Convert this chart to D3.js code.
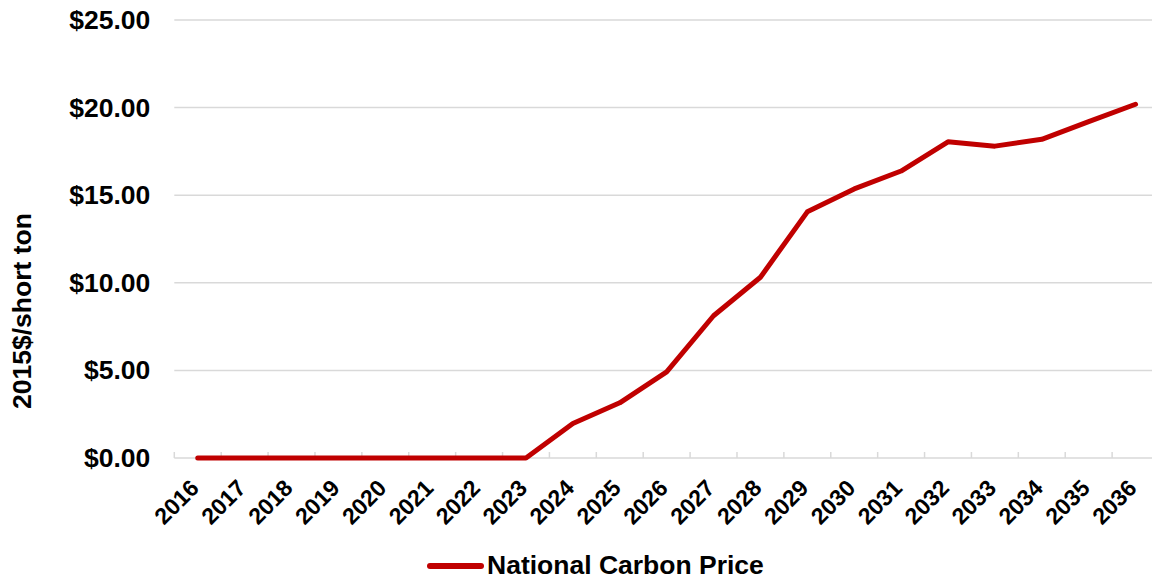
<!DOCTYPE html>
<html>
<head>
<meta charset="utf-8">
<script src="https://cdn.jsdelivr.net/npm/d3@7"></script>
<style>
  html, body { margin: 0; padding: 0; background: #fff; }
  svg { display: block; font-family: "Liberation Sans", Arial, sans-serif; font-weight: bold; }
</style>
</head>
<body>
<svg id="chart" width="1152" height="579"></svg>
<script>
// Carbon price path, 2015 dollars per short ton
const years = ["2016","2017","2018","2019","2020","2021","2022","2023","2024","2025",
               "2026","2027","2028","2029","2030","2031","2032","2033","2034","2035","2036"];
const carbonPrice = [0, 0, 0, 0, 0, 0, 0, 0, 1.97, 3.15,
                     4.92, 8.12, 10.32, 14.05, 15.36, 16.38, 18.05, 17.8, 18.19, 19.2, 20.19];
const yTicks = [0, 5, 10, 15, 20, 25];
const seriesName = "National Carbon Price";
const yTitle = "2015$/short ton";

const svg = d3.select("#chart");
const plotLeft = 174.3, plotRight = 1159, plotTop = 20, plotBottom = 458;

const x = d3.scaleBand().domain(years).range([plotLeft, plotRight]).padding(0);
const y = d3.scaleLinear().domain([0, 25]).range([plotBottom, plotTop]);
const fmt = d => "$" + d3.format(".2f")(d);

// horizontal gridlines
svg.append("g")
  .selectAll("line")
  .data(yTicks)
  .join("line")
  .attr("x1", plotLeft).attr("x2", plotRight)
  .attr("y1", d => y(d)).attr("y2", d => y(d))
  .attr("stroke", "#d9d9d9").attr("stroke-width", 1.5);

// y axis labels
const yAxis = svg.append("g")
  .attr("transform", `translate(${plotLeft},0)`)
  .call(d3.axisLeft(y).tickValues(yTicks).tickFormat(fmt).tickSize(0).tickPadding(24));
yAxis.select(".domain").remove();
yAxis.selectAll("text")
  .attr("font-family", "Liberation Sans, Arial, sans-serif")
  .attr("font-weight", "bold")
  .attr("font-size", 26.5)
  .attr("fill", "#000");

// category axis: tick marks at band boundaries
const boundaries = years.map(d => x(d)).concat([x(years[years.length - 1]) + x.bandwidth()]);
svg.append("g")
  .selectAll("line")
  .data(boundaries)
  .join("line")
  .attr("x1", d => d).attr("x2", d => d)
  .attr("y1", plotBottom - 6).attr("y2", plotBottom)
  .attr("stroke", "#d9d9d9").attr("stroke-width", 1.5);

// rotated year labels
svg.append("g")
  .selectAll("text")
  .data(years)
  .join("text")
  .attr("transform", d => `translate(${x(d) + x.bandwidth() / 2 - 9},${plotBottom + 20}) rotate(-45)`)
  .attr("text-anchor", "end")
  .attr("dy", "0.71em")
  .attr("font-size", 23)
  .attr("fill", "#000")
  .text(d => d);

// y axis title
svg.append("text")
  .attr("transform", `translate(31,311) rotate(-90)`)
  .attr("text-anchor", "middle")
  .attr("font-size", 26.5)
  .attr("fill", "#000")
  .text(yTitle);

// price line
const line = d3.line()
  .x((d, i) => x(years[i]) + x.bandwidth() / 2)
  .y(d => y(d));
svg.append("path")
  .datum(carbonPrice)
  .attr("d", line)
  .attr("fill", "none")
  .attr("stroke", "#c00000")
  .attr("stroke-width", 5)
  .attr("stroke-linejoin", "round")
  .attr("stroke-linecap", "round");

// legend
const lg = svg.append("g");
lg.append("line")
  .attr("x1", 430).attr("x2", 481)
  .attr("y1", 566).attr("y2", 566)
  .attr("stroke", "#c00000").attr("stroke-width", 6)
  .attr("stroke-linecap", "round");
lg.append("text")
  .attr("x", 487).attr("y", 574)
  .attr("font-size", 26.5)
  .attr("fill", "#000")
  .text(seriesName);
</script>
</body>
</html>
